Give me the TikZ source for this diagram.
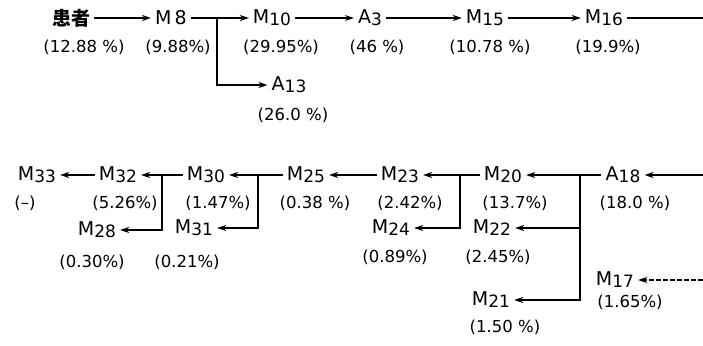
\documentclass[tikz,border=0pt]{standalone}
\usepackage{fontspec}
\setmainfont{DejaVu Sans}
\newfontfamily\cjk{Noto Sans CJK SC}
\usetikzlibrary{arrows.meta}
% name with a lowered, slightly smaller index
\newcommand\nm[2]{#1\raisebox{-2pt}{\fontsize{17}{19}\selectfont#2}}
\begin{document}
\begin{tikzpicture}[x=1pt,y=-1pt,
  every node/.style={inner sep=4pt,font=\fontsize{19}{21}\selectfont},
  pct/.style={inner sep=1pt,font=\fontsize{16.5}{18}\selectfont},
  wire/.style={line width=1.2pt},
  arr/.style={wire,-{Stealth[length=9pt,width=6pt]}},
  darr/.style={arr,dash pattern=on 5pt off 2pt}]
\useasboundingbox (0,0) rectangle (703,345);

% upper chain
\node (p)   at (71,18)  {\cjk\bfseries 患者};
\node (m8)  at (171,18) {M\,8};
\node (m10) at (272,18) {\nm{M}{10}};
\node (a3)  at (370,18) {\nm{A}{3}};
\node (m15) at (485,18) {\nm{M}{15}};
\node (m16) at (604,18) {\nm{M}{16}};
\node (a13) at (289,85) {\nm{A}{13}};
\coordinate (j1) at (217,18);
\coordinate (e1) at (703,18);

\node[pct] (pp)   at (84,47)  {(12.88 \%)};
\node[pct] (pm8)  at (178,47) {(9.88\%)};
\node[pct] (pm10) at (281,47) {(29.95\%)};
\node[pct] (pa3)  at (377,47) {(46 \%)};
\node[pct] (pm15) at (490,47) {(10.78 \%)};
\node[pct] (pm16) at (608,47) {(19.9\%)};
\node[pct] (pa13) at (293,115) {(26.0 \%)};

\draw[arr] (p) -- (m8);
\draw[wire] (m8) -- (j1);
\draw[arr] (j1) -- (m10);
\draw[arr] (j1) |- (a13);
\draw[arr] (m10) -- (a3);
\draw[arr] (a3) -- (m15);
\draw[arr] (m15) -- (m16);
\draw[wire] (m16) -- (e1);

% lower chain, running right to left
\node (a18) at (623,175) {\nm{A}{18}};
\node (m20) at (503,175) {\nm{M}{20}};
\node (m23) at (400,175) {\nm{M}{23}};
\node (m25) at (306,175) {\nm{M}{25}};
\node (m30) at (206,175) {\nm{M}{30}};
\node (m32) at (118,175) {\nm{M}{32}};
\node (m33) at (37,175)  {\nm{M}{33}};
\node (m22) at (492,228) {\nm{M}{22}};
\node (m24) at (391,228) {\nm{M}{24}};
\node (m31) at (194,228) {\nm{M}{31}};
\node (m28) at (97,230)  {\nm{M}{28}};
\node (m21) at (491,300) {\nm{M}{21}};
\node (m17) at (615,280) {\nm{M}{17}};
\coordinate (e2) at (703,175);
\coordinate (e3) at (703,280);
\coordinate (j5) at (580,175);
\coordinate (j4) at (460,175);
\coordinate (j3) at (258,175);
\coordinate (j2) at (162,175);

\node[pct] (pa18) at (635,203) {(18.0 \%)};
\node[pct] (pm20) at (515,203) {(13.7\%)};
\node[pct] (pm23) at (410,203) {(2.42\%)};
\node[pct] (pm25) at (315,203) {(0.38 \%)};
\node[pct] (pm30) at (218,203) {(1.47\%)};
\node[pct] (pm32) at (125,203) {(5.26\%)};
\node[pct] (pm33) at (25,203)  {(\textendash)};
\node[pct] (pm28) at (92,262)  {(0.30\%)};
\node[pct] (pm31) at (187,262) {(0.21\%)};
\node[pct] (pm24) at (395,257) {(0.89\%)};
\node[pct] (pm22) at (498,257) {(2.45\%)};
\node[pct] (pm17) at (630,302) {(1.65\%)};
\node[pct] (pm21) at (505,327) {(1.50 \%)};

\draw[arr] (e2) -- (a18);
\draw[wire] (a18) -- (j5);
\draw[arr] (j5) -- (m20);
\draw[arr] (j5) |- (m22);
\draw[arr] (j5) |- (m21);
\draw[darr] (e3) -- (m17);
\draw[wire] (m20) -- (j4);
\draw[arr] (j4) -- (m23);
\draw[arr] (j4) |- (m24);
\draw[arr] (m23) -- (m25);
\draw[wire] (m25) -- (j3);
\draw[arr] (j3) -- (m30);
\draw[arr] (j3) |- (m31);
\draw[wire] (m30) -- (j2);
\draw[arr] (j2) -- (m32);
\draw[arr] (j2) |- (m28);
\draw[arr] (m32) -- (m33);
\end{tikzpicture}
\end{document}
